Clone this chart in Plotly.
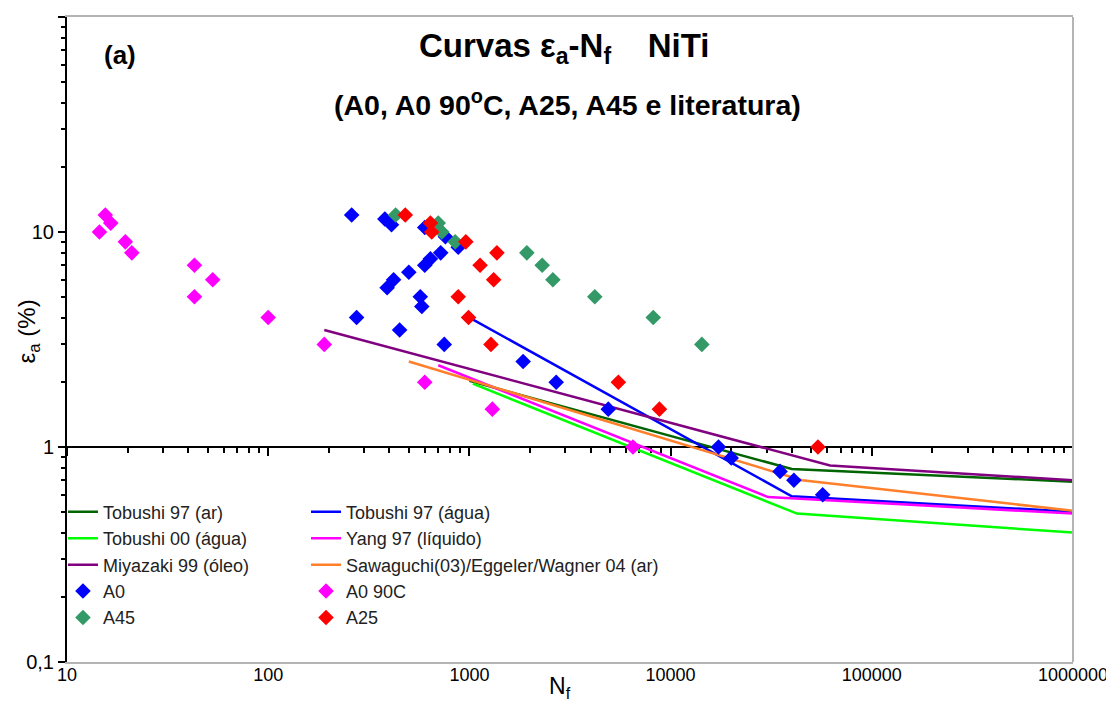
import plotly.graph_objects as go

# ---------------- data ----------------
x_ticks = [10, 100, 1000, 10000, 100000, 1000000]
x_tick_text = ["10", "100", "1000", "10000", "100000", "1000000"]
y_ticks = [0.1, 1, 10, 100]
y_tick_text = ["0,1", "1", "10", "100"]

t97_ar_n = [1000, 40000, 1000000]
t97_ar_e = [2.03, 0.79, 0.69]

t97_agua_n = [1000, 40000, 1000000]
t97_agua_e = [4.0, 0.59, 0.50]

t00_agua_n = [1040, 42500, 1000000]
t00_agua_e = [1.97, 0.49, 0.40]

yang_n = [700, 30500, 1000000]
yang_e = [2.4, 0.585, 0.49]

miyazaki_n = [190, 62000, 1000000]
miyazaki_e = [3.5, 0.82, 0.70]

sawaguchi_n = [500, 45000, 1000000]
sawaguchi_e = [2.5, 0.70, 0.505]

a0_n = [260, 380, 410, 600, 760, 880, 720, 640, 600, 500, 420, 390, 570, 580,
        275, 450, 750, 1850, 2700, 4900, 17300, 20000, 35000, 41000, 57000]
a0_e = [12, 11.5, 10.8, 10.5, 9.5, 8.5, 8, 7.5, 7, 6.5, 6, 5.5, 5, 4.5,
        4, 3.5, 3, 2.5, 2, 1.5, 1.0, 0.89, 0.77, 0.7, 0.6]

a0_90c_n = [14.5, 15.5, 16.5, 19.5, 21, 43, 53, 43, 100, 190, 600, 1300, 6500]
a0_90c_e = [10, 12, 11, 9, 8, 7, 6, 5, 4, 3, 2, 1.5, 1.0]

a45_n = [430, 700, 730, 850, 1930, 2300, 2600, 4200, 8200, 14300]
a45_e = [12, 11, 10, 9, 8, 7, 6, 5, 4, 3]

a25_n = [480, 640, 650, 960, 1370, 1130, 1320, 880, 990, 1280, 5500, 8800, 54000]
a25_e = [12, 11, 10, 9, 8, 7, 6, 5, 4, 3, 2, 1.5, 1.0]

# ---------------- figure ----------------
FONT = "Liberation Sans, Arial, sans-serif"
fig = go.Figure()

line_series = [
    ("Tobushi 97 (ar)", t97_ar_n, t97_ar_e, "#006400", "legend"),
    ("Tobushi 97 (água)", t97_agua_n, t97_agua_e, "#0000FF", "legend2"),
    ("Tobushi 00 (água)", t00_agua_n, t00_agua_e, "#00FF00", "legend"),
    ("Yang 97 (líquido)", yang_n, yang_e, "#FF00FF", "legend2"),
    ("Miyazaki 99 (óleo)", miyazaki_n, miyazaki_e, "#800080", "legend"),
    ("Sawaguchi(03)/Eggeler/Wagner 04 (ar)", sawaguchi_n, sawaguchi_e, "#FF7F2A", "legend2"),
]
for name, xs, ys, col, lg in line_series:
    fig.add_trace(go.Scatter(x=xs, y=ys, mode="lines", name=name,
                             line=dict(color=col, width=2.5), legend=lg))

marker_series = [
    ("A0", a0_n, a0_e, "#0000FF", "legend"),
    ("A0 90C", a0_90c_n, a0_90c_e, "#FF00FF", "legend2"),
    ("A45", a45_n, a45_e, "#339966", "legend"),
    ("A25", a25_n, a25_e, "#FF0000", "legend2"),
]
for name, xs, ys, col, lg in marker_series:
    fig.add_trace(go.Scatter(x=xs, y=ys, mode="markers", name=name,
                             marker=dict(symbol="diamond", size=12, color=col,
                                         line=dict(width=0)),
                             legend=lg))

# helper trace so the labelled bottom axis exists
fig.add_trace(go.Scatter(x=[x_ticks[0], x_ticks[-1]], y=[y_ticks[0], y_ticks[0]],
                         xaxis="x2", mode="lines", line=dict(width=0),
                         showlegend=False, hoverinfo="skip"))

x_minor = [k * d for d in x_ticks[:-1] for k in range(2, 10)]
y_minor = [k * d for d in y_ticks[:-1] for k in range(2, 10)]

fig.update_layout(
    width=1114, height=700, autosize=False,
    margin=dict(l=59, r=49, t=9, b=46, autoexpand=False),
    paper_bgcolor="white", plot_bgcolor="white",
    font=dict(family=FONT, color="black"),
    xaxis=dict(type="log", range=[1, 6], anchor="free", position=1/3,
               showline=True, linecolor="black", linewidth=2,
               ticks="outside", ticklen=8, tickwidth=1.5, tickcolor="black",
               tickvals=x_ticks, showticklabels=False, showgrid=False,
               zeroline=False, layer="below traces", automargin=False,
               minor=dict(tickvals=x_minor, ticks="outside", ticklen=5,
                          tickwidth=1.5, tickcolor="black", showgrid=False)),
    xaxis2=dict(type="log", range=[1, 6], overlaying="x", anchor="y", side="bottom",
                showline=True, linecolor="#b4b4b4", linewidth=2, mirror=True,
                ticks="", tickvals=x_ticks, ticktext=x_tick_text, automargin=False,
                ticklabelstandoff=-5,
                tickfont=dict(size=18, family=FONT, color="black"),
                showgrid=False, zeroline=False),
    yaxis=dict(type="log", range=[-1, 2], anchor="x", automargin=False,
               showline=True, linecolor="black", linewidth=2,
               ticks="outside", ticklen=7, tickwidth=1.5, tickcolor="black",
               tickvals=y_ticks, ticktext=y_tick_text,
               tickfont=dict(size=20, family=FONT, color="black"),
               showgrid=False, zeroline=False,
               minor=dict(tickvals=y_minor, ticks="outside", ticklen=4,
                          tickwidth=1.5, tickcolor="black", showgrid=False)),
    legend=dict(x=-0.004, y=0.261, xanchor="left", yanchor="top",
                bgcolor="rgba(0,0,0,0)", font=dict(size=18, family=FONT, color="#222"),
                tracegroupgap=0, itemwidth=30),
    legend2=dict(x=0.2376, y=0.261, xanchor="left", yanchor="top",
                 bgcolor="rgba(0,0,0,0)", font=dict(size=18, family=FONT, color="#222"),
                 tracegroupgap=0, itemwidth=30),
    shapes=[dict(type="line", xref="paper", yref="paper", x0=1, x1=1, y0=0, y1=1,
                 line=dict(color="#b4b4b4", width=2))],
    annotations=[
        dict(text="<b>Curvas ε<sub>a</sub>-N<sub>f</sub>\u00a0\u00a0\u00a0\u00a0NiTi</b>",
             xref="paper", yref="paper", x=0.495, y=0.952, xanchor="center",
             yanchor="middle", showarrow=False, font=dict(size=33, family=FONT)),
        dict(text="<b>(A0, A0 90<sup>o</sup>C, A25, A45 e literatura)</b>",
             xref="paper", yref="paper", x=0.498, y=0.867, xanchor="center",
             yanchor="middle", showarrow=False, font=dict(size=28.5, family=FONT)),
        dict(text="<b>(a)</b>", xref="paper", yref="paper", x=0.053, y=0.941,
             xanchor="center", yanchor="middle", showarrow=False,
             font=dict(size=26, family=FONT)),
        dict(text="ε<sub>a</sub> (%)", xref="paper", yref="paper", x=-0.0385, y=0.513,
             xanchor="center", yanchor="middle", textangle=-90, showarrow=False,
             font=dict(size=24, family=FONT)),
        dict(text="N<sub>f</sub>", xref="paper", yref="paper", x=0.49, y=-0.04,
             xanchor="center", yanchor="middle", showarrow=False,
             font=dict(size=23, family=FONT)),
    ],
)

fig.write_html("out.html")
